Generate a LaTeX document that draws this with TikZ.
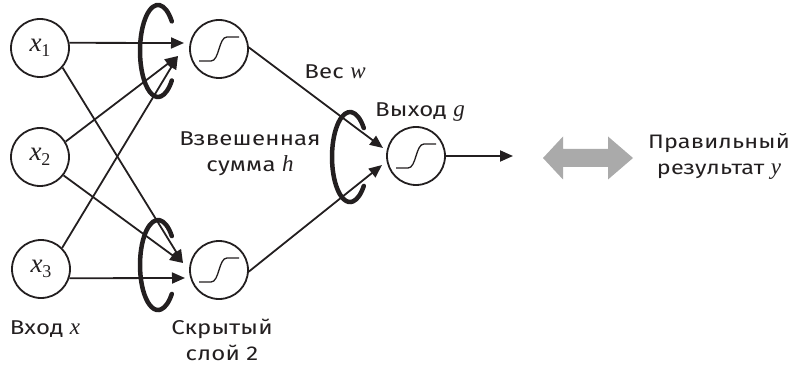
\documentclass[tikz,border=0pt]{standalone}
\usepackage{fontspec}
\setmainfont{Fira Sans}[LetterSpace=1,FakeStretch=1.2]
\newfontfamily\varfont{Liberation Serif}[UprightFont=* Italic]
\newfontfamily\digfont{Liberation Serif}
\newcommand\lv[1]{{\varfont\fontsize{23}{26}\selectfont #1}}
\newcommand\invar[1]{{\varfont\fontsize{27}{27}\selectfont x}\raisebox{-5pt}{\digfont\fontsize{18}{18}\selectfont #1}}
\usetikzlibrary{arrows.meta}
\definecolor{arrowgray}{RGB}{170,170,170}
\definecolor{ink}{RGB}{35,31,32}
\begin{document}
\begin{tikzpicture}[x=1pt,y=1pt,
  neuron/.style={circle,draw=ink,line width=1.8pt,minimum size=58pt,inner sep=0pt,text=ink},
  sig/.style={neuron,path picture={\draw[ink,line width=1.3pt] ([shift={(-20pt,-12pt)}]path picture bounding box.center) -- ++(12pt,0pt) to[out=0,in=180,looseness=0.75] ++(16pt,24pt) -- ++(12pt,0pt);}},
  conn/.style={ink,line width=1.8pt,-{Triangle[length=13pt,width=11pt]}},
  curl/.style={ink,line width=4.5pt,line cap=round},
  lbl/.style={font=\fontsize{20}{26}\selectfont,align=center,inner sep=0pt,text=ink},
]
\useasboundingbox (0,0) rectangle (791,367);
% nodes
\node[neuron] (x1) at (40,319) {\invar{1}};
\node[neuron] (x2) at (40,210) {\invar{2}};
\node[neuron] (x3) at (41,98) {\invar{3}};
\node[sig] (h1) at (219,318) {};
\node[sig] (h2) at (219,97) {};
\node[sig] (o) at (416,211) {};
% arrow tips
\coordinate (tA) at (184,324);
\coordinate (tB) at (178,311);
\coordinate (tC) at (183,104);
\coordinate (tD) at (185,89);
\coordinate (tE) at (383,219);
\coordinate (tF) at (382,202);
\coordinate (tO) at (513,211);
% connections
\draw[conn] (x1.10) -- (tA);
\draw[conn] (x2.31) -- (tB);
\draw[conn] (x3.45) -- (tB);
\draw[conn] (x1.-41) -- (tC);
\draw[conn] (x2.-38) -- (tC);
\draw[conn] (x3.-18) -- (tD);
\draw[conn] (h1.3) -- (tE);
\draw[conn] (h2.-3) -- (tF);
\draw[conn] (o.east) -- (tO);
% curls
\draw[curl] (171.8,345.6) arc[start angle=40,end angle=320,x radius=18pt,y radius=46pt];
\draw[curl] (171.8,130.9) arc[start angle=40,end angle=320,x radius=18pt,y radius=45pt];
\draw[curl] (363.8,238.9) arc[start angle=40,end angle=320,x radius=18pt,y radius=45pt];
% gray double arrow
\fill[arrowgray] (543,209) -- (563,230.5) -- (563,218) -- (608,218) -- (608,230.5) -- (633,209) -- (608,187.5) -- (608,200) -- (563,200) -- (563,187.5) -- cycle;
% labels
\node[lbl] (lw) at (335,295) {Вес \lv{w}};
\node[lbl] (lg) at (420,255) {Выход \lv{g}};
\node[lbl] (lh) at (250,213) {Взвешенная\\сумма \lv{h}};
\node[lbl] (lx) at (45,38) {Вход \lv{x}};
\node[lbl] (ls) at (222,27) {Скрытый\\слой 2};
\node[lbl,font=\fontsize{19.5}{26}\selectfont] (ly) at (719,211) {Правильный\\результат \lv{y}};
\end{tikzpicture}
\end{document}
